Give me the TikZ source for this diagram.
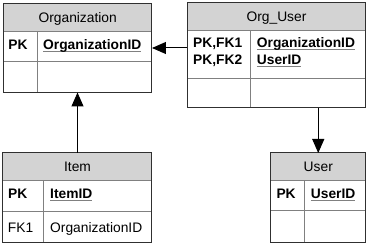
\documentclass[tikz,border=0pt]{standalone}
\usepackage{fontspec}
\setmainfont{Liberation Sans}
\usetikzlibrary{arrows.meta}
\definecolor{headgray}{HTML}{D3D3D3}
\definecolor{rulegray}{HTML}{808080}
\definecolor{framegray}{HTML}{303030}
\newcommand{\keyfield}[1]{\setbox0\hbox{#1}\rlap{\color{rulegray}\rule[-2.4pt]{\wd0}{1.1pt}}\box0}

\begin{document}
\begin{tikzpicture}[x=1pt,y=-1pt,>={Triangle[length=14pt,width=12pt]},
  font=\fontsize{13.8}{17}\selectfont,
  entity/.style={draw=framegray,line width=1pt,anchor=north west,inner sep=0pt,outer sep=0pt},
  caption/.style={anchor=base,inner sep=0pt},
  colname/.style={anchor=base west,inner sep=0pt},
  pkname/.style={colname,font=\fontsize{13.8}{17}\selectfont\bfseries},
  grid/.style={rulegray,line width=1pt}]
  \useasboundingbox (0,0) rectangle (368,245);

  % Organization
  \fill[headgray] (3.3,3.3) rectangle (152,32);
  \draw[grid] (3.3,32) -- (152,32) (3.3,62) -- (152,62) (38,32) -- (38,92.5);
  \node[entity,minimum width=148.7pt,minimum height=89.2pt] (org) at (3.3,3.3) {};
  \node[caption] (orgtitle) at (77.7,22.6) {Organization};
  \node[pkname] (orgpk) at (8.3,50) {PK};
  \node[pkname] (orgid) at (43,50) {\keyfield{OrganizationID}};

  % Org_User
  \fill[headgray] (187.3,2.7) rectangle (365.7,30.7);
  \draw[grid] (187.3,30.7) -- (365.7,30.7) (187.3,79) -- (365.7,79) (251,30.7) -- (251,108);
  \node[entity,minimum width=178.4pt,minimum height=105.3pt] (orguser) at (187.3,2.7) {};
  \node[caption] (orgusertitle) at (276.5,21.6) {Org\_User};
  \node[pkname] (orguserpk) at (193,48) {PK,FK1};
  \node[pkname] (orguserpkb) at (193,65) {PK,FK2};
  \node[pkname] (orguserorg) at (256.7,48) {\keyfield{OrganizationID}};
  \node[pkname] (orguserid) at (256.7,65) {\keyfield{UserID}};

  % Item
  \fill[headgray] (3,153) rectangle (152,181);
  \draw[grid] (3,181) -- (152,181) (3,211.7) -- (152,211.7) (44,181) -- (44,242.7);
  \node[entity,minimum width=149pt,minimum height=89.7pt] (item) at (3,153) {};
  \node[caption] (itemtitle) at (77.5,172) {Item};
  \node[pkname] (itempk) at (8,198.8) {PK};
  \node[pkname] (itemid) at (50,198.8) {\keyfield{ItemID}};
  \node[colname] (itemfk) at (7.7,232.5) {FK1};
  \node[colname] (itemorg) at (50,232.5) {OrganizationID};

  % User
  \fill[headgray] (271,153) rectangle (365.5,181);
  \draw[grid] (271,181) -- (365.5,181) (271,211) -- (365.5,211) (305,181) -- (305,242.7);
  \node[entity,minimum width=94.5pt,minimum height=89.7pt] (user) at (271,153) {};
  \node[caption] (usertitle) at (318.3,172) {User};
  \node[pkname] (userpk) at (276.3,198.8) {PK};
  \node[pkname] (userid) at (310.7,198.8) {\keyfield{UserID}};

  % Relations
  \coordinate (orglink) at (152,48);
  \draw[->,line width=1pt] (orglink -| orguser.west) -- (orglink);
  \draw[->,line width=1pt] (item.north) -- (item.north |- org.south);
  \draw[->,line width=1pt] (orguser.south -| user.north) -- (user.north);
\end{tikzpicture}
\end{document}
